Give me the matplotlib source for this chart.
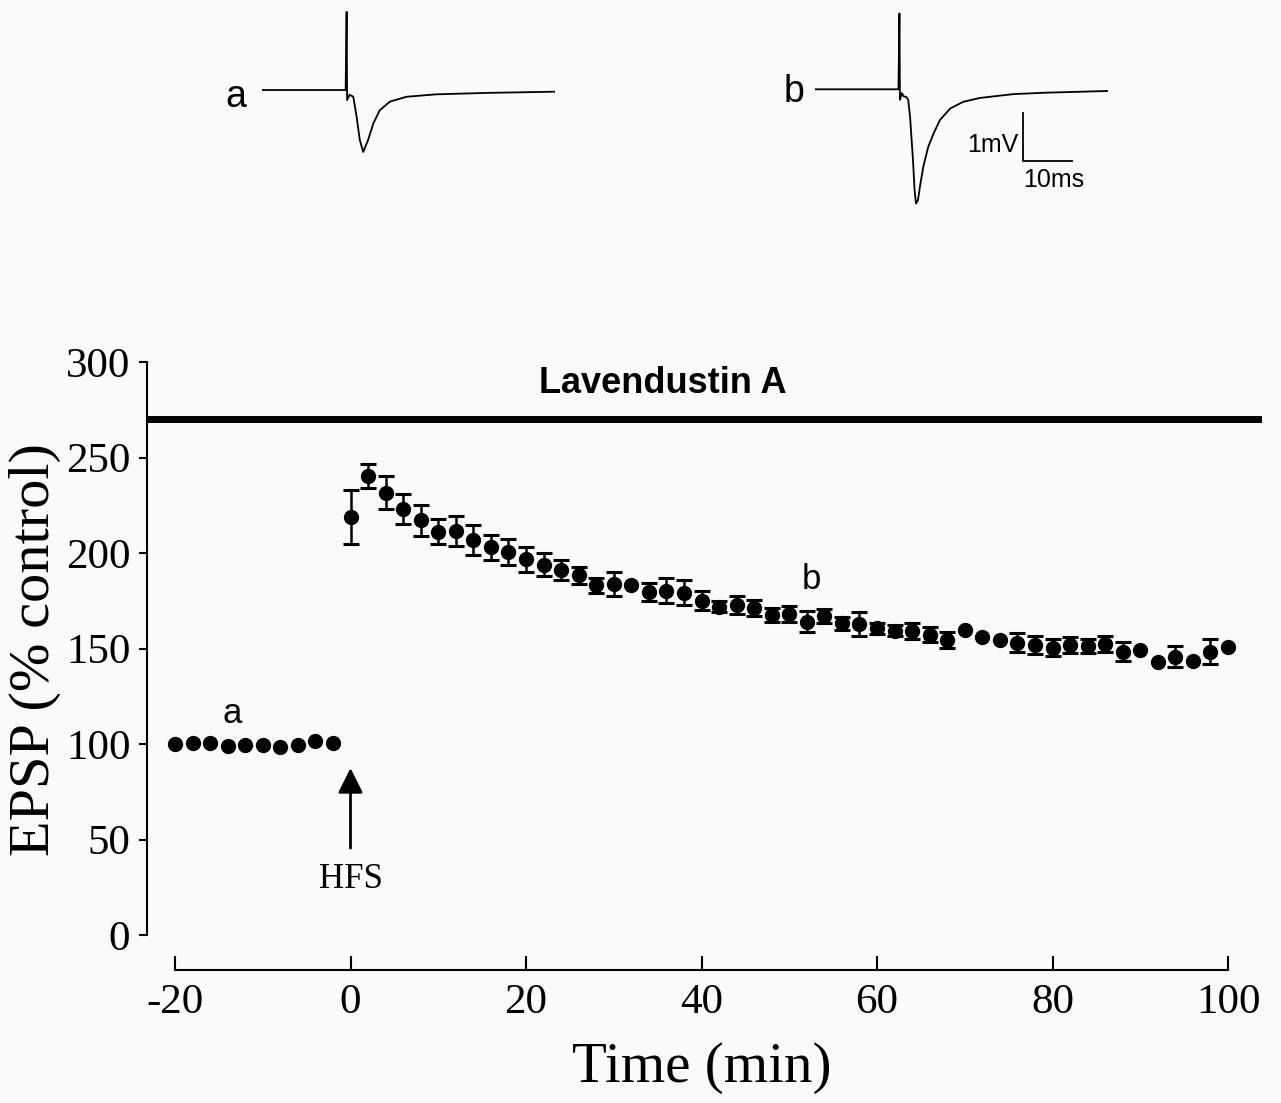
import matplotlib
matplotlib.use("Agg")
import matplotlib.pyplot as plt
import numpy as np

plt.rcParams['axes.unicode_minus'] = False

# baseline (before HFS), % control
base_t = [-20, -18, -16, -14, -12, -10, -8, -6, -4, -2]
base_v = [100, 100.3, 100.3, 99, 99.5, 99.5, 98.3, 99.5, 101.6, 100.3]

# after HFS
post_t = [0, 2, 4, 6, 8, 10, 12, 14, 16, 18, 20, 22, 24, 26, 28, 30, 32, 34, 36, 38,
          40, 42, 44, 46, 48, 50, 52, 54, 56, 58, 60, 62, 64, 66, 68, 70, 72, 74, 76, 78,
          80, 82, 84, 86, 88, 90, 92, 94, 96, 98, 100]
post_v = [218.7, 240.3, 231.6, 223, 217.1, 211.2, 211.5, 206.8, 203, 200.7,
          196.7, 193.9, 191.1, 188.3, 183.2, 183.8, 183.2, 179.7, 180.3, 179.2,
          175, 171.9, 172.8, 171, 167.5, 168, 164, 167, 163.2, 162.8,
          160.5, 159.3, 159.3, 157.1, 154.5, 159.7, 155.8, 154.5, 153, 151.8,
          150.5, 151.8, 151.3, 152.2, 148.3, 149.2, 143.1, 145.7, 143.5, 148.3, 150.9]
post_err = [14.2, 6.2, 8.7, 7.9, 8.2, 6.5, 8, 8, 6.5, 6.8,
            6.6, 5.9, 5, 4.4, 3.9, 6.1, 0, 4.7, 6.4, 6.5,
            5, 3, 4.7, 4.2, 3.5, 4, 5.5, 3.9, 3.5, 6.3,
            3, 3, 4.1, 3.9, 4.4, 0, 0, 0, 5, 4.8,
            4.4, 4.2, 3.9, 4.2, 5, 0, 0, 5.4, 0, 6.5, 0]

# example traces (ms from stimulus, mV from baseline)
trace_t_a = [-17.4, -0.2, 0.0, 0.1, 0.6, 1.0, 1.37, 2.05, 2.7, 3.4, 4.4, 5.5, 6.8, 8.9,
             12.3, 18.4, 28.7, 42.7]
trace_v_a = [0.0, 0.0, 1.63, -0.21, -0.1, -0.12, -0.14, -0.56, -1.04, -1.29, -1.04, -0.69, -0.42, -0.24,
             -0.14, -0.09, -0.06, -0.035]
trace_t_b = [-17.3, -0.2, 0.0, 0.1, 0.5, 0.9, 1.4, 1.8, 2.2, 2.5, 2.8, 3.1, 3.4, 3.8, 4.2,
             4.9, 5.9, 7.0, 8.3, 10.4, 13.1, 16.5, 23.4, 30.2, 42.8]
trace_v_b = [0.0, 0.0, 1.58, -0.22, -0.08, -0.15, -0.16, -0.22, -0.6, -1.06, -1.51, -2.1, -2.38, -2.31, -2.03,
             -1.61, -1.2, -0.92, -0.64, -0.4, -0.26, -0.18, -0.1, -0.07, -0.035]

W, H = 1281, 1103
serif = ['Liberation Serif', 'DejaVu Serif']
sans = ['Liberation Sans', 'DejaVu Sans']
bg = '#fafafa'

fig = plt.figure(figsize=(W / 100, H / 100), dpi=100, facecolor=bg)

# ---- main plot
ax = fig.add_axes([147 / W, 1 - 970 / H, (1262 - 147) / W, (970 - 362) / H])
ax.set_facecolor(bg)
ax.set_xlim(-23.19, 103.87)
ax.set_ylim(-18.32, 300)

ax.axhline(270, color='black', lw=5, zorder=1)

pt = np.array(post_t)
pv = np.array(post_v)
pe = np.array(post_err)
m = pe > 0
ax.errorbar(pt[m], pv[m], yerr=pe[m], fmt='none', ecolor='black', elinewidth=1.8,
            capsize=5.5, capthick=2.2, zorder=2)
ax.plot(pt, pv, 'o', color='black', ms=10, zorder=3)
ax.plot(base_t, base_v, 'o', color='black', ms=10, zorder=3)

for s in ['top', 'right']:
    ax.spines[s].set_visible(False)
ax.spines['left'].set_bounds(0, 300)
ax.spines['bottom'].set_bounds(-20, 100)
ax.spines['left'].set_linewidth(1.5)
ax.spines['bottom'].set_linewidth(1.5)
ax.set_xticks([-20, 0, 20, 40, 60, 80, 100])
ax.set_yticks([0, 50, 100, 150, 200, 250, 300])
ax.tick_params(axis='y', direction='out', length=6, width=1.5, pad=6)
ax.tick_params(axis='x', direction='in', length=10, width=1.5, pad=10)
for lab in ax.get_xticklabels() + ax.get_yticklabels():
    lab.set_family(serif)
    lab.set_fontsize(31)

ax.text(35.6, 289, 'Lavendustin A', family=sans, weight='bold', fontsize=26,
        ha='center', va='center')
ax.text(-13.5, 116, 'a', family=sans, fontsize=25, ha='center', va='center')
ax.text(52.5, 186, 'b', family=sans, fontsize=25, ha='center', va='center')

ax.annotate('', xy=(0, 87.4), xytext=(0, 45.5),
            arrowprops=dict(arrowstyle='-|>,head_length=0.4,head_width=0.2', lw=2,
                            color='black', mutation_scale=38, shrinkA=0, shrinkB=0))
ax.text(0, 28.8, 'HFS', family=serif, fontsize=25, ha='center', va='center')

fig.text(35 / W, 1 - 650 / H, 'EPSP (% control)', family=serif, fontsize=42,
         rotation=90, ha='center', va='center')
fig.text(702 / W, 1 - 1068 / H, 'Time (min)', family=serif, fontsize=41,
         ha='center', va='center')

# ---- traces
ax_a = fig.add_axes([261.7 / W, 1 - 220 / H, (555 - 261.7) / W, 210 / H])
ax_a.plot(trace_t_a, trace_v_a, color='black', lw=1.3)
ax_a.set_xlim(-17.4, 42.7)
ax_a.set_ylim(-2.708, 1.667)
ax_a.axis('off')

ax_b = fig.add_axes([815 / W, 1 - 220 / H, (1108.3 - 815) / W, 210 / H])
ax_b.plot(trace_t_b, trace_v_b, color='black', lw=1.3)
ax_b.set_xlim(-17.3, 42.8)
ax_b.set_ylim(-2.723, 1.652)
ax_b.axis('off')
# scale bar 1 mV / 10 ms
ax_b.plot([25.4, 25.4, 35.4], [-0.5, -1.5, -1.5], color='black', lw=1.3)
ax_b.text(24.4, -1.16, '1mV', family=sans, fontsize=18, ha='right', va='center')
ax_b.text(31.6, -1.88, '10ms', family=sans, fontsize=18, ha='center', va='center')

fig.text(236 / W, 1 - 97 / H, 'a', family=sans, fontsize=27, ha='center', va='center')
fig.text(794 / W, 1 - 92 / H, 'b', family=sans, fontsize=27, ha='center', va='center')

fig.savefig('out.png', dpi=100, facecolor=bg)
